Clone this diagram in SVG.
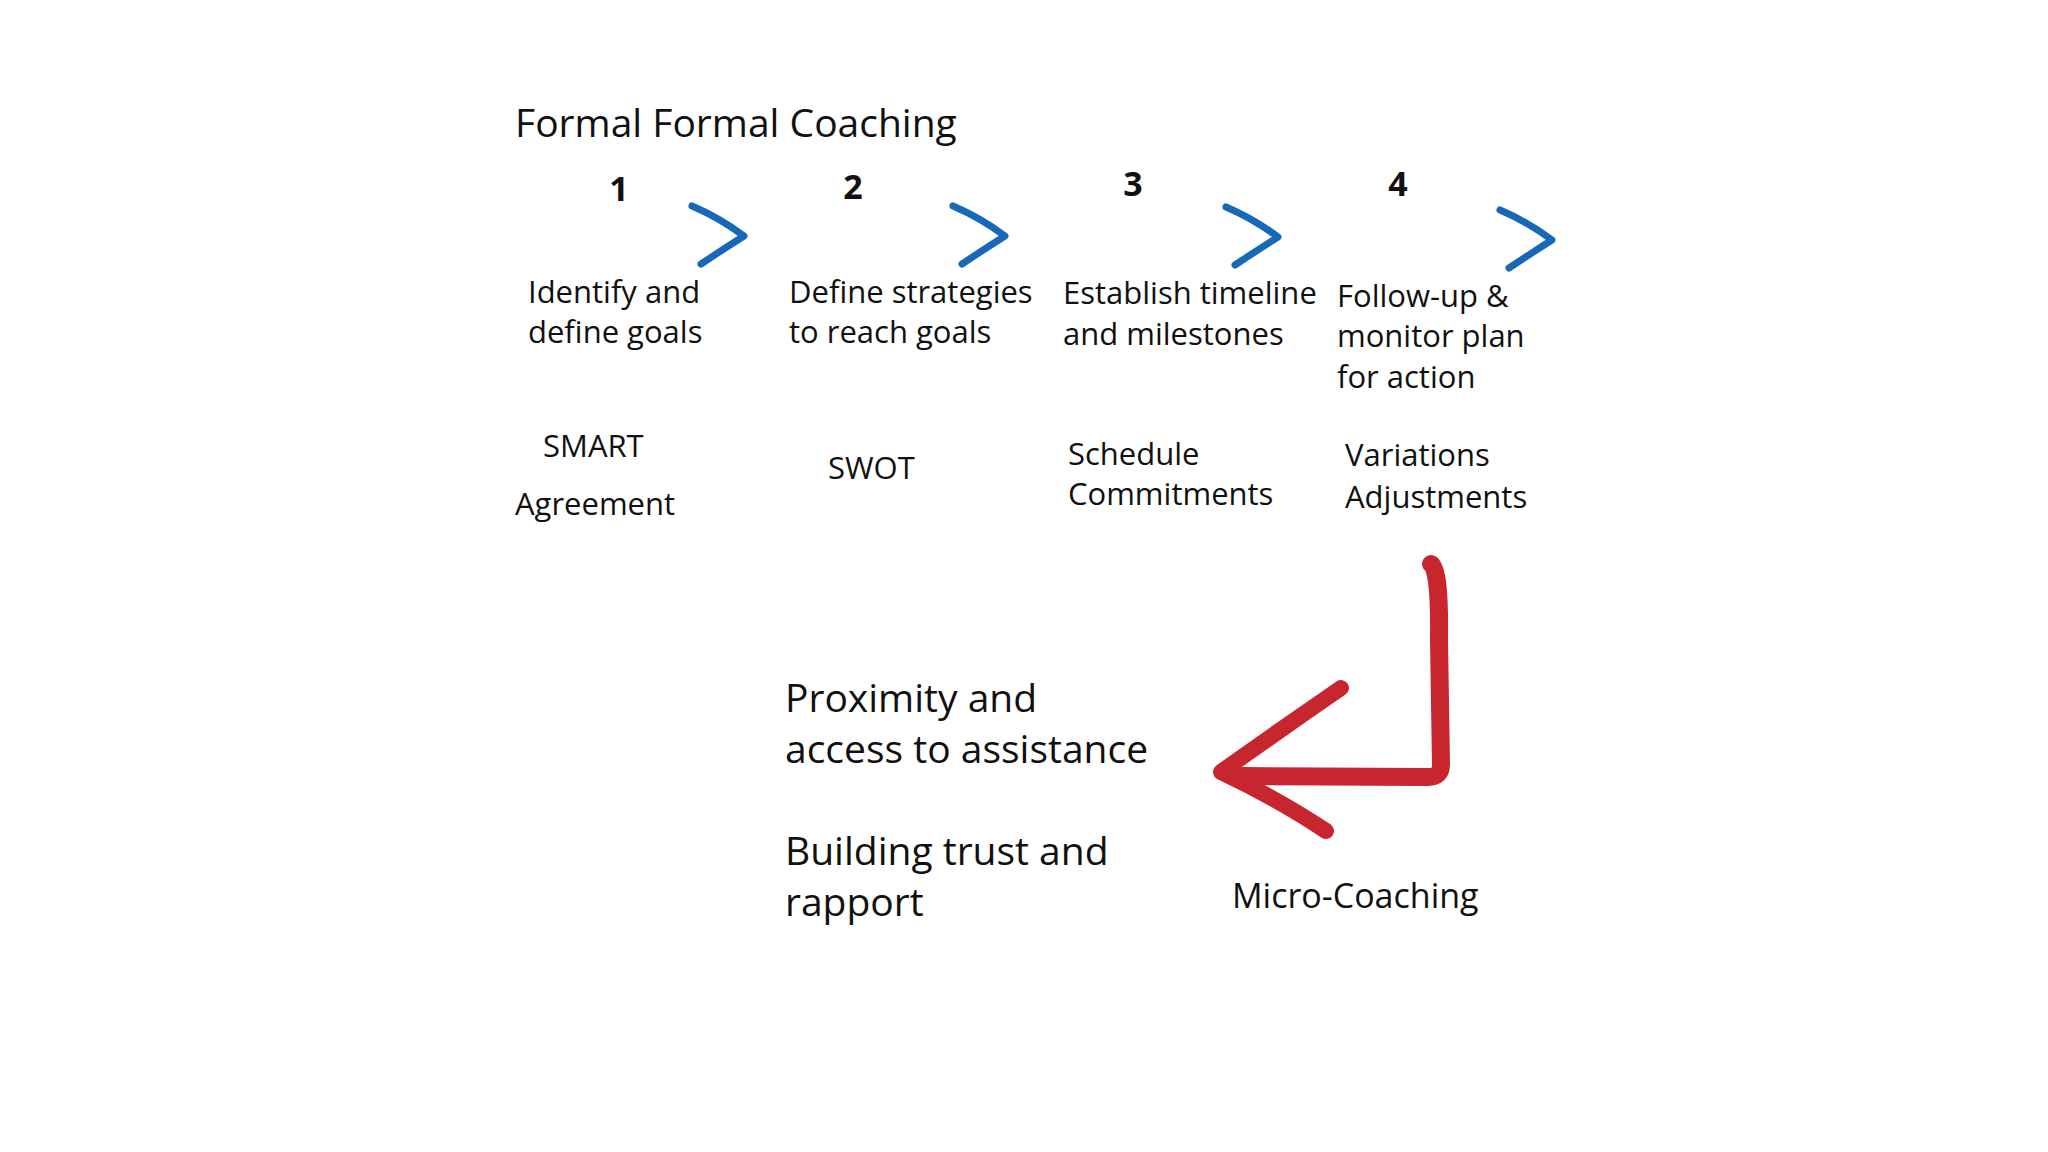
<svg xmlns="http://www.w3.org/2000/svg" width="2048" height="1152" viewBox="0 0 2048 1152">
<defs>
<linearGradient id="bg" x1="0" x2="1" y1="0" y2="0"><stop offset="0" stop-color="#2aa6e2"/><stop offset="1" stop-color="#1769b8"/></linearGradient>
<g id="arr">
<line x1="520" y1="235" x2="722" y2="235" stroke="url(#bg)" stroke-width="8" stroke-linecap="round" stroke-dasharray="0 12.6"/>
<path d="M692,206 Q720,218 744,236 Q722,250 701,264" fill="none" stroke="#1769b8" stroke-width="7" stroke-linecap="round" stroke-linejoin="round"/>
</g>
</defs>
<style>
text{font-family:"Open Sans","Noto Sans","Liberation Sans",sans-serif;fill:#111}
.t{font-size:31px}.b{font-size:39px}.n{font-size:34px;font-weight:bold}
</style>
<rect width="2048" height="1152" fill="#fff"/>
<g id="title"><text x="515" y="137" class="b">Formal Formal Coaching</text></g>
<g id="connectors">
<use href="#arr"/>
<use href="#arr" x="261"/>
<use href="#arr" x="534" y="1"/>
<use href="#arr" x="808" y="4"/>
<path d="M1431,564 Q1440,570 1439,640 L1441,765 Q1441,777 1428,777 L1240,776" fill="none" stroke="#c8262f" stroke-width="18" stroke-linecap="round" stroke-linejoin="round"/>
<path d="M1341,688 Q1280,730 1221,772 Q1280,800 1326,831" fill="none" stroke="#c8262f" stroke-width="16" stroke-linecap="round" stroke-linejoin="round"/>
</g>
<g id="step1"><text x="619" y="201" class="n" text-anchor="middle">1</text>
<text x="528" y="303" class="t">Identify and</text><text x="528" y="343" class="t">define goals</text>
<text x="543" y="457" class="t">SMART</text><text x="515" y="515" class="t">Agreement</text></g>
<g id="step2"><text x="853" y="199" class="n" text-anchor="middle">2</text>
<text x="789" y="303" class="t">Define strategies</text><text x="789" y="343" class="t">to reach goals</text>
<text x="828" y="479" class="t">SWOT</text></g>
<g id="step3"><text x="1133" y="196" class="n" text-anchor="middle">3</text>
<text x="1063" y="304" class="t">Establish timeline</text><text x="1063" y="345" class="t">and milestones</text>
<text x="1068" y="465" class="t">Schedule</text><text x="1068" y="505" class="t">Commitments</text></g>
<g id="step4"><text x="1398" y="196" class="n" text-anchor="middle">4</text>
<text x="1337" y="307" class="t">Follow-up &amp;</text><text x="1337" y="347" class="t">monitor plan</text><text x="1337" y="388" class="t">for action</text>
<text x="1345" y="466" class="t">Variations</text><text x="1345" y="508" class="t">Adjustments</text></g>
<g id="micro"><text x="785" y="712" class="b">Proximity and</text><text x="785" y="763" class="b">access to assistance</text>
<text x="785" y="865" class="b">Building trust and</text><text x="785" y="916" class="b">rapport</text>
<text x="1232" y="908" class="t" style="font-size:34px">Micro-Coaching</text></g>
</svg>
